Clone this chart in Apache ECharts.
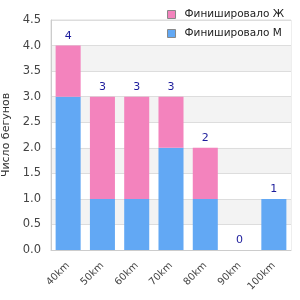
<!DOCTYPE html>
<html>
<head>
<meta charset="utf-8">
<script src="https://cdn.jsdelivr.net/npm/echarts@6/dist/echarts.min.js"></script>
<style>
  html, body { margin: 0; padding: 0; background: #fff; }
  #chart-container { width: 300px; height: 300px; }
</style>
</head>
<body>
<div id="chart-container"></div>
<script>
const categories = ["40km", "50km", "60km", "70km", "80km", "90km", "100km"]
const finishedM = [3, 1, 1, 2, 1, 0, 1]
const finishedF = [1, 2, 2, 1, 1, 0, 0]
const yTicks = [0, 0.5, 1, 1.5, 2, 2.5, 3, 3.5, 4, 4.5]

const totals = categories.map((c, i) => finishedM[i] + finishedF[i])

var dom = document.getElementById("chart-container")
var myChart = echarts.init(dom, null, { renderer: "canvas" })

const fontFamily = "DejaVu Sans"

var option = {
  animation: false,
  legend: {
    orient: "vertical",
    right: 11,
    top: 4,
    itemWidth: 8,
    itemHeight: 8,
    itemGap: 8,
    icon: "rect",
    itemStyle: { borderColor: "#888", borderWidth: 1 },
    data: ["Финишировало Ж", "Финишировало М"],
    textStyle: { fontFamily, fontSize: 10.5, color: "#222", padding: [0, 0, 0, 4] }
  },
  grid: {
    left: 51,
    right: 9,
    top: 20,
    bottom: 50,
    outerBoundsMode: "none",
    containLabel: false,
    show: true,
    borderColor: "#ddd",
    borderWidth: 1
  },
  xAxis: {
    type: "category",
    data: categories,
    axisTick: { show: false },
    axisLine: { lineStyle: { color: "#ccc" } },
    axisLabel: {
      rotate: 45,
      fontFamily,
      fontSize: 10,
      color: "#444",
      margin: 14
    }
  },
  yAxis: {
    type: "value",
    min: yTicks[0],
    max: yTicks[yTicks.length - 1],
    interval: 0.5,
    name: "Число бегунов",
    nameLocation: "middle",
    nameGap: 39,
    nameTextStyle: { fontFamily, fontSize: 11, color: "#333" },
    axisLine: { show: true, lineStyle: { color: "#ccc" } },
    axisTick: { show: false },
    axisLabel: {
      fontFamily,
      fontSize: 11.5,
      color: "#444",
      margin: 10,
      formatter: (v) => v.toFixed(1)
    },
    splitLine: { lineStyle: { color: "#ddd" } },
    splitArea: { show: true, areaStyle: { color: ["#ffffff", "#f3f3f3"] } }
  },
  series: [
    {
      name: "Финишировало М",
      type: "bar",
      stack: "total",
      data: finishedM,
      barCategoryGap: "27%",
      itemStyle: { color: "#62a8f4" }
    },
    {
      name: "Финишировало Ж",
      type: "bar",
      stack: "total",
      data: finishedF,
      barCategoryGap: "27%",
      itemStyle: { color: "#f383bd" },
      label: {
        show: true,
        position: "top",
        distance: 4,
        fontFamily,
        fontSize: 11,
        color: "#1c1c9c",
        formatter: (p) => String(totals[p.dataIndex])
      }
    }
  ]
}

myChart.setOption(option)
</script>
</body>
</html>
